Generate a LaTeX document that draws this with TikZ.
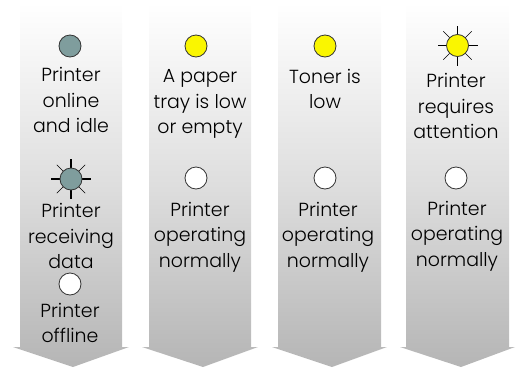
\documentclass[tikz,border=0pt]{standalone}
\usepackage{fontspec}
\setmainfont{Poppins}[UprightFont=* Light]
\definecolor{lampgrey}{RGB}{127,157,157}
\definecolor{lampyellow}{RGB}{250,246,0}
\tikzset{every picture/.style={line width=0.75pt}}
\tikzset{
  lamp/.style={circle,draw=black!80,line width=0.6pt,minimum size=16.5pt,inner sep=0pt},
  caption/.style={align=center,inner sep=0.75pt,font=\fontsize{14.2}{19.1}\selectfont},
  banner/.style={top color=white,bottom color=black!29,middle color=black!13,draw=none},
}
\newcommand{\lampraysat}[2]{%
  \foreach \ang in {0,90,180,270} \draw [line width=1pt] (#1,#2) ++(\ang:11) -- ++(\ang:9);
  \foreach \ang in {45,135,225,315} \draw [line width=0.5pt] (#1,#2) ++(\ang:11) -- ++(\ang:9);
}
\begin{document}
\begin{tikzpicture}[x=0.75pt,y=0.75pt,yscale=-1,xscale=1]
\useasboundingbox (0,0) rectangle (524,368);

%Shape: Banners
\shade [banner] (20,3) -- (122,3) -- (122,347) -- (129,347) -- (73,367) -- (13,347) -- (20,347) -- cycle ;
\shade [banner] (149,3) -- (251,3) -- (251,347) -- (258,347) -- (203,367) -- (142,347) -- (149,347) -- cycle ;
\shade [banner] (278,3) -- (381,3) -- (381,347) -- (387,347) -- (332,367) -- (272,347) -- (278,347) -- cycle ;
\shade [banner] (406,3) -- (509,3) -- (509,347) -- (515,347) -- (461,367) -- (400,347) -- (406,347) -- cycle ;

%Shape: Rays
\lampraysat{71}{179}
\lampraysat{457.5}{45.5}

% Lamps
\node [lamp,fill=lampgrey] (idle) at (70,46) {};
\node [lamp,fill=lampgrey] (receiving) at (71,179) {};
\node [lamp,fill=white] (offline) at (70,284) {};
\node [lamp,fill=lampyellow] (paper) at (196,46) {};
\node [lamp,fill=white] (paperok) at (196,178) {};
\node [lamp,fill=lampyellow] (toner) at (325,46) {};
\node [lamp,fill=white] (tonerok) at (325,178) {};
\node [lamp,fill=lampyellow] (attention) at (457.5,45.5) {};
\node [lamp,fill=white] (attentionok) at (456,178) {};

% Text Node
\node [caption] (idletext) at (71,100) {Printer\\online\\and idle};
\node [caption] (receivingtext) at (71,236) {Printer\\receiving\\data};
\node [caption] (offlinetext) at (70,323) {Printer\\offline};
\node [caption] (papertext) at (200,104) {A paper\\tray is low\\or empty};
\node [caption] (paperoktext) at (200,237) {Printer\\operating\\normally};
\node [caption] (tonertext) at (325,89) {Toner is\\low};
\node [caption] (toneroktext) at (328,237) {Printer\\operating\\normally};
\node [caption] (attentiontext) at (456,106) {Printer\\requires\\attention};
\node [caption] (attentionoktext) at (457,236) {Printer\\operating\\normally};

\end{tikzpicture}
\end{document}
